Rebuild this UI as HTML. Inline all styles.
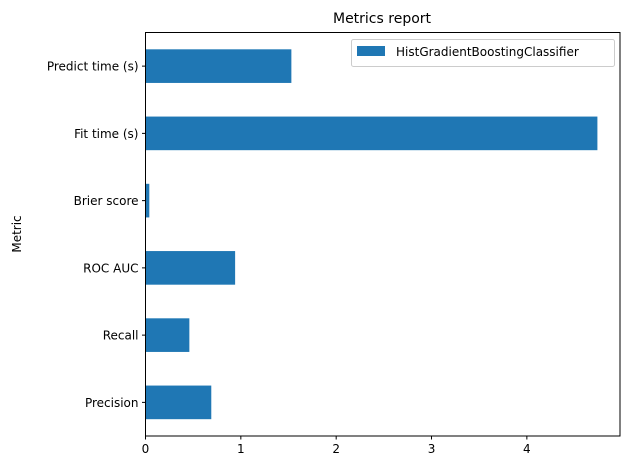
<!DOCTYPE html>
<html><head><meta charset="utf-8"><style>
body{margin:0;background:#fff;font-family:"Liberation Sans","DejaVu Sans",sans-serif;}
svg text{font-family:"DejaVu Sans","Liberation Sans",sans-serif;}
</style></head><body>
<svg id="chart" width="630" height="470" xmlns="http://www.w3.org/2000/svg">
<text x="382" y="23" font-size="14" text-anchor="middle" fill="#000">Metrics report</text>
<text transform="translate(21,234) rotate(-90)" font-size="12" text-anchor="middle">Metric</text>
<g id="bars"></g>
<g id="xticks"></g>
<g id="yticks"></g>
<rect x="145.5" y="32.5" width="474.5" height="403.5" fill="none" stroke="#000" stroke-width="1"/>
<g>
<rect x="351.5" y="39.5" width="263" height="27" rx="2" fill="#fff" stroke="#ccc"/>
<rect x="357" y="46" width="28" height="10" fill="#1f77b4"/>
<text x="396" y="56" font-size="12">HistGradientBoostingClassifier</text>
</g>
</svg>
<script>
const categories = ["Precision","Recall","ROC AUC","Brier score","Fit time (s)","Predict time (s)"];
const values = [0.69, 0.46, 0.94, 0.04, 4.74, 1.53];
const xTicks = [0,1,2,3,4];
const NS="http://www.w3.org/2000/svg";
const L=145.5,R=620,T=32.5,B=436;
const xMax=Math.max(...values)*1.05;
const x=v=>L+v/xMax*(R-L);
const n=categories.length, slot=(B-T)/n;
const y=i=>B-(i+0.5)*slot;
const bars=document.getElementById('bars'),xt=document.getElementById('xticks'),yt=document.getElementById('yticks');
categories.forEach((c,i)=>{
 const r=document.createElementNS(NS,'rect');
 r.setAttribute('x',L);r.setAttribute('y',y(i)-slot*0.25);
 r.setAttribute('width',x(values[i])-L);r.setAttribute('height',slot*0.5);
 r.setAttribute('fill','#1f77b4');
 
 
 bars.appendChild(r);
 const tk=document.createElementNS(NS,'line');
 tk.setAttribute('x1',L-3.5);tk.setAttribute('x2',L);tk.setAttribute('y1',y(i));tk.setAttribute('y2',y(i));tk.setAttribute('stroke','#000');
 
 
 yt.appendChild(tk);
 const t=document.createElementNS(NS,'text');
 t.setAttribute('x',L-7);t.setAttribute('y',y(i)+4.5);t.setAttribute('font-size','12');t.setAttribute('text-anchor','end');
 t.textContent=c;
 
 
 yt.appendChild(t);
});
xTicks.forEach(v=>{
 const tk=document.createElementNS(NS,'line');
 tk.setAttribute('x1',x(v));tk.setAttribute('x2',x(v));tk.setAttribute('y1',B);tk.setAttribute('y2',B+3.5);tk.setAttribute('stroke','#000');
 
 
 xt.appendChild(tk);
 const t=document.createElementNS(NS,'text');
 t.setAttribute('x',x(v));t.setAttribute('y',B+17);t.setAttribute('font-size','12');t.setAttribute('text-anchor','middle');
 t.textContent=v;
 
 
 xt.appendChild(t);
});
</script>
</body></html>
